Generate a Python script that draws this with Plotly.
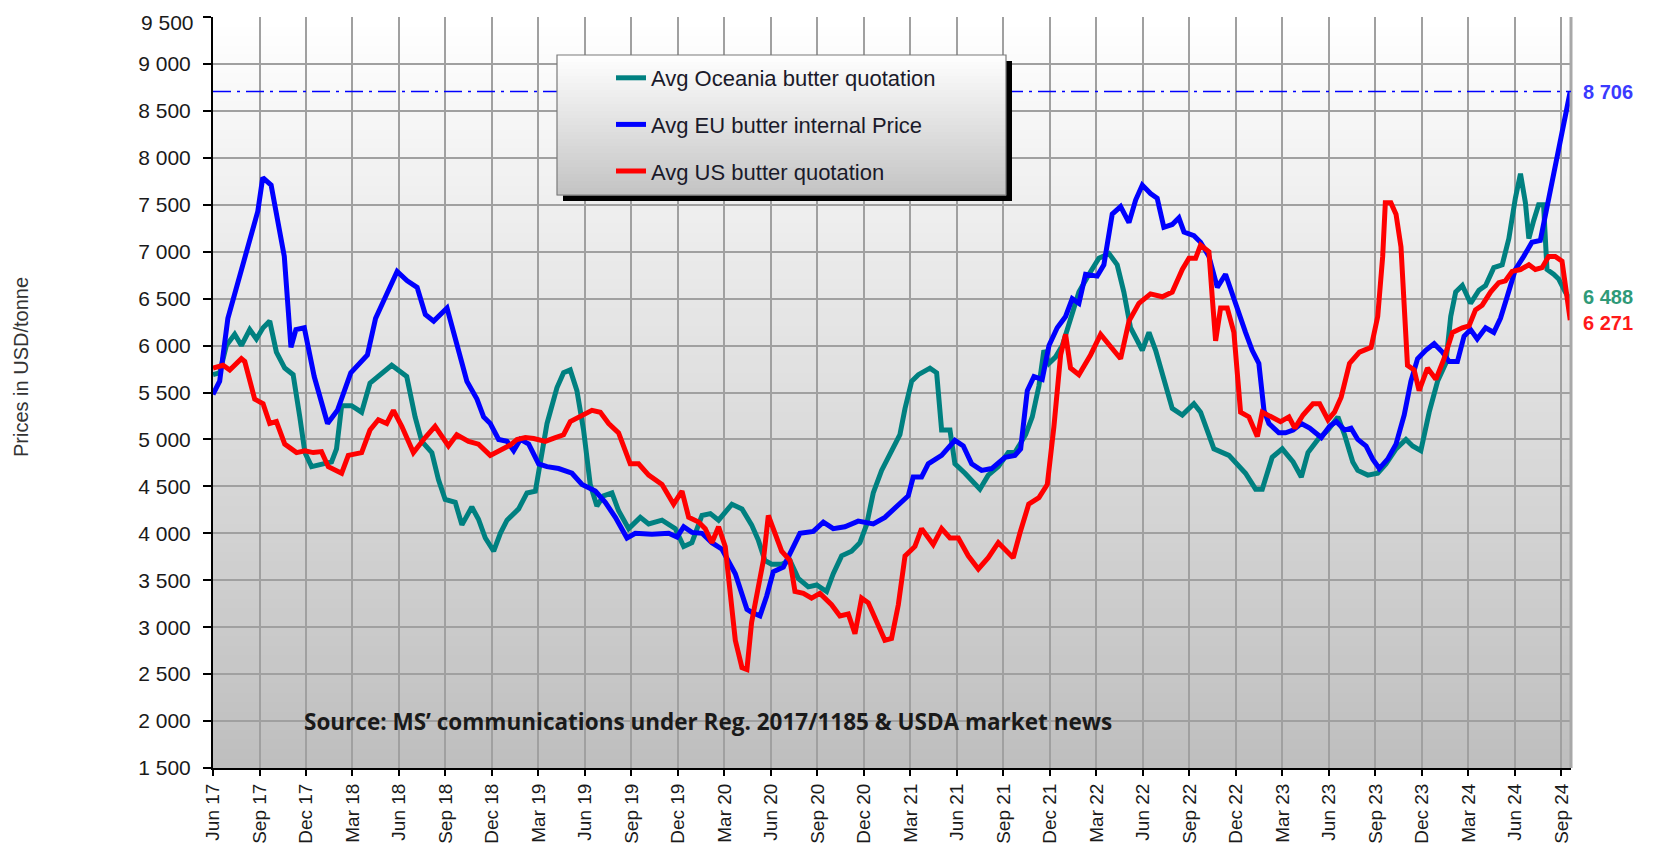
import plotly.graph_objects as go

# ---------------- data (x = months since June 2017) ----------------
x_tick_labels = ["Jun 17", "Sep 17", "Dec 17", "Mar 18", "Jun 18", "Sep 18", "Dec 18", "Mar 19",
                 "Jun 19", "Sep 19", "Dec 19", "Mar 20", "Jun 20", "Sep 20", "Dec 20", "Mar 21",
                 "Jun 21", "Sep 21", "Dec 21", "Mar 22", "Jun 22", "Sep 22", "Dec 22", "Mar 23",
                 "Jun 23", "Sep 23", "Dec 23", "Mar 24", "Jun 24", "Sep 24"]
y_tick_values = [1500, 2000, 2500, 3000, 3500, 4000, 4500, 5000, 5500, 6000, 6500, 7000, 7500, 8000,
                 8500, 9000, 9500]

oce_month = [0, 0.43, 0.86, 1.4, 1.83, 2.37, 2.8, 3.23, 3.66, 4.09, 4.63, 5.17, 5.6, 5.93, 6.36, 7.0,
             7.65, 7.97, 8.3, 8.94, 9.59, 10.13, 10.67, 11.53, 12.5, 13.04, 13.47, 14.12, 14.55, 14.98,
             15.63, 16.06, 16.7, 17.13, 17.57, 18.11, 18.54, 18.97, 19.72, 20.26, 20.8, 21.23, 21.55,
             22.19, 22.62, 23.05, 23.48, 23.91, 24.34, 24.77, 25.2, 25.74, 26.17, 26.82, 27.57, 28.11,
             28.97, 29.83, 30.37, 30.9, 31.55, 32.09, 32.62, 33.48, 34.13, 34.75, 35.18, 35.61, 36.04,
             36.69, 37.23, 37.76, 38.41, 38.95, 39.59, 40.02, 40.56, 41.2, 41.74, 42.17, 42.6, 43.14,
             43.78, 44.32, 44.65, 45.08, 45.51, 46.26, 46.69, 47.01, 47.55, 47.87, 48.52, 49.48, 50.02,
             50.67, 51.31, 51.74, 52.43, 52.86, 53.29, 53.61, 53.94, 54.37, 54.8, 55.23, 55.87, 56.52,
             57.16, 57.81, 58.34, 58.77, 59.2, 59.96, 60.39, 60.82, 61.35, 61.89, 62.54, 63.29, 63.72,
             64.58, 65.55, 66.62, 67.27, 67.7, 68.34, 68.99, 69.69, 70.22, 70.65, 71.29, 71.94, 72.58,
             73.01, 73.54, 73.86, 74.51, 75.15, 75.68, 76.33, 76.97, 77.4, 77.93, 78.47, 79.01, 79.54,
             79.86, 80.18, 80.61, 81.14, 81.68, 82.11, 82.64, 83.18, 83.61, 84.03, 84.36, 84.68, 84.9,
             85.21, 85.53, 85.85, 86.07, 86.5, 86.82, 87.25, 87.57]
oce_price = [5690, 5710, 6000, 6120, 6000, 6170, 6070, 6190, 6260, 5930, 5760, 5690, 5240, 4860, 4710, 4740,
             4760, 4900, 5360, 5360, 5290, 5600, 5670, 5790, 5670, 5240, 4980, 4860, 4570, 4360,
             4330, 4090, 4280, 4150, 3950, 3810, 4000, 4140, 4260, 4430, 4450, 4860, 5170,
             5550, 5710, 5740, 5520, 5100, 4520, 4290, 4400, 4430, 4240, 4050, 4170, 4100,
             4140, 4050, 3860, 3900, 4190, 4210, 4140, 4310, 4260, 4090, 3930, 3710, 3670,
             3670, 3710, 3520, 3430, 3450, 3380, 3570, 3760, 3810, 3900, 4090, 4430, 4670,
             4880, 5050, 5330, 5620, 5690, 5760, 5710, 5100, 5100, 4740, 4640, 4470, 4620,
             4710, 4860, 4860, 5050, 5240, 5570, 5950, 5810, 5880, 6000, 6240, 6570, 6760,
             6930, 6980, 6860, 6570, 6190, 5950, 6140, 5950, 5620, 5330, 5260, 5380, 5290,
             4900, 4830, 4640, 4470, 4470, 4810, 4900, 4760, 4600, 4860, 5000, 5100, 5240,
             5050, 4760, 4670, 4620, 4640, 4740, 4900, 5000, 4930, 4880, 5290, 5620, 5810,
             6310, 6570, 6640, 6450, 6590, 6640, 6830, 6860, 7140, 7570, 7830, 7520, 7140,
             7330, 7500, 7500, 6810, 6760, 6710, 6570, 6488]

eu_month = [0, 0.43, 0.96, 1.61, 2.46, 2.89, 3.21, 3.75, 4.6, 5.03, 5.35, 5.89, 6.53, 7.39, 8.03, 8.46,
            8.89, 9.96, 10.49, 11.13, 11.88, 12.53, 13.17, 13.7, 14.24, 15.1, 15.74, 16.38, 17.03, 17.46,
            17.89, 18.43, 18.97, 19.4, 19.83, 20.37, 21.01, 21.55, 22.3, 23.16, 23.81, 24.67, 25.31,
            25.96, 26.71, 27.25, 28.32, 29.4, 29.94, 30.37, 30.9, 31.55, 32.19, 32.84, 33.7, 34.45,
            34.75, 35.29, 35.72, 36.15, 36.8, 37.33, 37.87, 38.73, 39.38, 40.02, 40.77, 41.63, 42.6,
            43.35, 44.22, 44.86, 45.18, 45.72, 46.15, 47.01, 47.87, 48.41, 48.95, 49.59, 50.24, 51.1,
            51.74, 52.11, 52.54, 52.97, 53.5, 53.94, 54.47, 55.01, 55.44, 55.87, 56.3, 57.05, 57.48,
            58.02, 58.56, 59.1, 59.53, 59.96, 60.49, 60.92, 61.35, 61.89, 62.32, 62.65, 63.29, 63.72,
            64.26, 64.8, 65.33, 65.98, 66.62, 67.05, 67.48, 67.81, 68.13, 68.77, 69.2, 69.69, 70.22,
            70.76, 71.51, 72.04, 72.47, 73.01, 73.43, 73.86, 74.4, 74.83, 75.25, 75.79, 76.33, 76.86,
            77.29, 77.72, 78.25, 78.79, 79.32, 79.75, 80.29, 80.72, 81.14, 81.57, 82.11, 82.64, 83.07,
            83.5, 84.03, 84.57, 85.1, 85.64, 86.07, 86.6, 87.14, 87.57]
eu_price = [5480, 5620, 6290, 6670, 7140, 7430, 7790, 7710, 6950, 5980, 6170, 6190, 5670, 5170, 5310, 5520,
            5710, 5900, 6290, 6520, 6790, 6690, 6620, 6330, 6260, 6400, 6000, 5620, 5430, 5240,
            5170, 5000, 4980, 4880, 5000, 4950, 4740, 4710, 4690, 4640, 4520, 4450, 4330,
            4170, 3950, 4000, 3990, 4000, 3960, 4070, 4010, 4000, 3900, 3830, 3570, 3190,
            3160, 3120, 3330, 3590, 3640, 3810, 4000, 4020, 4120, 4050, 4070, 4130, 4100,
            4170, 4310, 4400, 4600, 4600, 4740, 4830, 4990, 4930, 4740, 4670, 4690, 4810,
            4830, 4900, 5520, 5670, 5640, 6000, 6190, 6310, 6500, 6450, 6760, 6740, 6860,
            7400, 7480, 7310, 7550, 7710, 7620, 7570, 7260, 7290, 7360, 7210, 7170, 7100,
            6950, 6620, 6760, 6430, 6140, 5950, 5810, 5310, 5170, 5070, 5070, 5100, 5170,
            5120, 5020, 5140, 5190, 5100, 5120, 5000, 4930, 4790, 4690, 4790, 4950, 5260,
            5620, 5860, 5950, 6020, 5930, 5830, 5830, 6100, 6170, 6070, 6190, 6140, 6290,
            6520, 6810, 6950, 7100, 7120, 7480, 7950, 8380, 8706]

us_month = [0, 0.65, 1.08, 1.83, 2.05, 2.69, 3.23, 3.66, 4.09, 4.63, 5.39, 5.93, 6.47, 7.0, 7.44, 8.3,
            8.73, 9.59, 10.13, 10.67, 11.21, 11.64, 12.18, 12.93, 13.69, 14.33, 15.19, 15.73, 16.49, 17.13,
            17.89, 18.65, 19.18, 19.61, 20.15, 20.69, 21.44, 22.09, 22.62, 23.05, 23.7, 24.45, 24.99,
            25.53, 26.17, 26.92, 27.46, 28.11, 28.97, 29.72, 30.26, 30.69, 31.33, 31.76, 32.19, 32.62,
            33.05, 33.38, 33.7, 34.13, 34.45, 34.75, 35.18, 35.51, 35.83, 36.26, 36.69, 37.23, 37.55,
            38.09, 38.62, 39.16, 39.91, 40.45, 40.99, 41.42, 41.85, 42.28, 42.82, 43.35, 43.78, 44.22,
            44.65, 45.29, 45.72, 46.47, 47.01, 47.55, 48.09, 48.73, 49.38, 50.02, 50.67, 51.63, 52.06,
            52.63, 53.29, 53.83, 54.26, 54.69, 55.01, 55.33, 55.87, 56.62, 57.27, 57.91, 58.56, 59.1,
            59.74, 60.49, 61.25, 61.89, 62.54, 62.97, 63.4, 63.72, 64.26, 64.47, 64.69, 65.01, 65.44,
            65.87, 66.3, 66.84, 67.38, 67.7, 68.34, 68.88, 69.42, 69.8, 70.33, 70.97, 71.4, 71.94,
            72.36, 72.79, 73.33, 73.97, 74.72, 75.15, 75.47, 75.64, 76.0, 76.33, 76.65, 76.86, 77.07,
            77.5, 77.82, 78.36, 78.9, 79.43, 79.97, 80.61, 81.04, 81.46, 81.89, 82.43, 82.96, 83.39,
            83.82, 84.36, 84.9, 85.32, 85.75, 86.18, 86.6, 87.04, 87.25, 87.57]
us_price = [5760, 5790, 5740, 5860, 5830, 5430, 5380, 5170, 5190, 4950, 4860, 4880, 4860, 4870, 4710, 4640,
            4830, 4860, 5100, 5210, 5170, 5310, 5140, 4860, 5020, 5140, 4930, 5050, 4980, 4950,
            4830, 4900, 4940, 5000, 5020, 5010, 4980, 5020, 5050, 5190, 5240, 5310, 5290,
            5170, 5070, 4740, 4740, 4620, 4520, 4310, 4450, 4170, 4120, 4050, 3900, 4070,
            3860, 3330, 2860, 2570, 2550, 3050, 3430, 3710, 4190, 4000, 3810, 3710, 3380,
            3360, 3310, 3360, 3240, 3120, 3140, 2930, 3310, 3260, 3050, 2860, 2880, 3240,
            3760, 3860, 4050, 3880, 4050, 3950, 3950, 3760, 3620, 3740, 3900, 3740, 4000,
            4310, 4380, 4520, 5140, 5900, 6120, 5760, 5690, 5900, 6120, 6000, 5860, 6260,
            6450, 6550, 6520, 6570, 6810, 6930, 6930, 7070, 7000, 6520, 6050, 6400, 6400,
            6140, 5290, 5240, 5030, 5290, 5240, 5190, 5240, 5120, 5260, 5380, 5380, 5210,
            5290, 5450, 5810, 5930, 5980, 6310, 6950, 7520, 7520, 7400, 7050, 6380, 5790,
            5740, 5520, 5760, 5640, 5860, 6140, 6190, 6210, 6380, 6430, 6570, 6670, 6690,
            6790, 6810, 6860, 6810, 6830, 6950, 6950, 6900, 6620, 6271]

assert len(oce_month) == len(oce_price)
assert len(eu_month) == len(eu_price)
assert len(us_month) == len(us_price)

# name, x, y, line colour, end-label colour, end-label vertical nudge (px)
series = [
    ("Avg Oceania butter quotation", oce_month, oce_price, "#008080", "#2f9a78", 3),
    ("Avg EU butter internal Price", eu_month, eu_price, "#0000ff", "#3a3aff", 0),
    ("Avg US butter quotation", us_month, us_price, "#ff0000", "#ff1a1a", -3),
]

# ---------------- geometry (page pixels; the page body adds an 8px margin) ----------------
BODY = 8
FIG_W, FIG_H = 1659 - BODY, 848 - BODY
L, R, T, B = 213, 1571, 17, 768          # plot area on the page


def px_x(px):
    return (px - L) / (R - L)


def px_y(py):
    return (B - py) / (B - T)


def grey(level):
    v = int(round(level))
    return f"rgb({v},{v},{v})"


def fmt(v):
    return f"{v:,.0f}".replace(",", " ")


FONT = "Liberation Sans, Arial, sans-serif"
TICK_FONT = dict(family=FONT, size=21, color="#1a1a1a")

fig = go.Figure()
for i, (name, xm, yv, col, _, _) in enumerate(series):
    fig.add_trace(go.Scatter(x=xm, y=yv, mode="lines", name=name, legendgroup=f"g{i}",
                             line=dict(color=col, width=5)))

shapes = []
# gradient plot background
n = 80
for i in range(n):
    frac = (i + 0.5) / n
    shapes.append(dict(type="rect", xref="paper", yref="paper", x0=0, x1=1,
                       y0=i / n, y1=(i + 1) / n + 0.002, layer="below",
                       fillcolor=grey(190 + 65 * frac), line=dict(width=0)))
# right border
shapes.append(dict(type="line", xref="paper", yref="paper", x0=1, x1=1, y0=0, y1=1,
                   layer="above", line=dict(color="#a8a8a8", width=3)))
# dash-dot line at latest EU price
shapes.append(dict(type="line", xref="paper", yref="y", x0=0, x1=1,
                   y0=eu_price[-1], y1=eu_price[-1], layer="above",
                   line=dict(color="#0000ff", width=1.5, dash="18px,6px,3px,6px")))
# legend box: shadow, gradient, border
bx0, bx1, by0, by1 = 557, 1006, 55, 195
shapes.append(dict(type="rect", xref="paper", yref="paper",
                   x0=px_x(bx0 + 6), x1=px_x(bx1 + 6), y0=px_y(by1 + 6), y1=px_y(by0 + 6),
                   layer="above", fillcolor="black", line=dict(width=0)))
m = 40
for i in range(m):
    f = (i + 0.5) / m
    shapes.append(dict(type="rect", xref="paper", yref="paper",
                       x0=px_x(bx0), x1=px_x(bx1),
                       y0=px_y(by0 + (by1 - by0) * (i + 1) / m + 0.5),
                       y1=px_y(by0 + (by1 - by0) * i / m),
                       layer="above", fillcolor=grey(255 - 60 * f), line=dict(width=0)))
shapes.append(dict(type="rect", xref="paper", yref="paper",
                   x0=px_x(bx0), x1=px_x(bx1), y0=px_y(by1), y1=px_y(by0),
                   layer="above", fillcolor="rgba(0,0,0,0)", line=dict(color="#7a7a7a", width=1.2)))

annotations = []
# end-of-series labels
for name, xm, yv, col, lab, nudge in series:
    annotations.append(dict(x=1, xref="paper", y=yv[-1], yref="y", text=f"<b>{fmt(yv[-1])}</b>",
                            showarrow=False, xanchor="left", yanchor="middle", xshift=10, yshift=nudge,
                            font=dict(family=FONT, size=20, color=lab)))
# top y tick label, kept fully inside the figure
annotations.append(dict(x=0, xref="paper", y=1, yref="paper", text=fmt(y_tick_values[-1]),
                        showarrow=False, xanchor="right", yanchor="top", xshift=-17, yshift=8,
                        font=TICK_FONT))
# source note
annotations.append(dict(x=px_x(302), xref="paper", y=2000, yref="y",
                        text="<b>Source: MS’ communications under Reg. 2017/1185 &amp; USDA market news</b>",
                        showarrow=False, xanchor="left", yanchor="middle",
                        font=dict(family="Open Sans, sans-serif", size=22.5, color="#1a1a1a")))
# y-axis title
annotations.append(dict(x=px_x(21), xref="paper", y=px_y(367), yref="paper",
                        text="Prices in USD/tonne", textangle=-90, showarrow=False,
                        xanchor="center", yanchor="middle",
                        font=dict(family=FONT, size=20, color="#333333")))

y_tick_text = [fmt(v) for v in y_tick_values[:-1]] + [""]

fig.update_layout(
    width=FIG_W, height=FIG_H,
    margin=dict(l=L - BODY, r=FIG_W - (R - BODY), t=T - BODY, b=FIG_H - (B - BODY), pad=0),
    paper_bgcolor="white", plot_bgcolor="white",
    showlegend=True,
    legend=dict(x=px_x(611), y=px_y(57), xanchor="left", yanchor="top",
                bgcolor="rgba(0,0,0,0)", borderwidth=0, tracegroupgap=15,
                font=dict(family=FONT, size=22, color="#1a1a2a")),
    shapes=shapes,
    annotations=annotations,
    xaxis=dict(range=[0, 87.62], tickmode="array", automargin=False,
               tickvals=[3 * i for i in range(len(x_tick_labels))], ticktext=x_tick_labels,
               tickangle=-90, ticks="outside", ticklen=6, tickwidth=1.5, tickcolor="black",
               ticklabeloverflow="allow",
               showline=True, linecolor="black", linewidth=2,
               showgrid=True, gridcolor="#a0a0a0", gridwidth=2, zeroline=False,
               tickfont=dict(family=FONT, size=19, color="#1a1a1a")),
    yaxis=dict(range=[1500, 9500], tickmode="array", tickvals=y_tick_values, ticktext=y_tick_text,
               automargin=False,
               ticks="outside", ticklen=8, tickwidth=1.5, tickcolor="black",
               ticklabelstandoff=8, ticklabeloverflow="allow",
               showline=True, linecolor="black", linewidth=2,
               showgrid=True, gridcolor="#a0a0a0", gridwidth=2, zeroline=False,
               tickfont=TICK_FONT),
)

fig.write_html("out.html")
